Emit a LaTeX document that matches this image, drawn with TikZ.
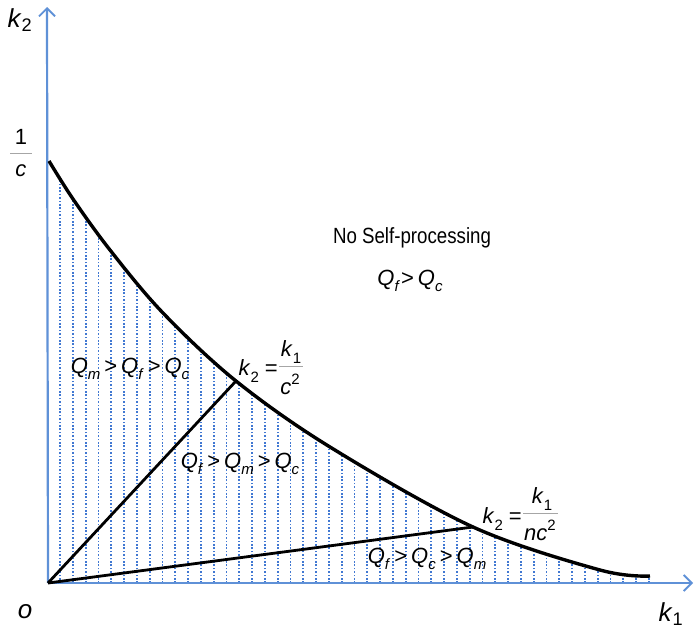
\documentclass[tikz,border=0pt]{standalone}
\usepackage{fontspec}
\setmainfont{Liberation Sans}
\newfontfamily\narrowfont{Liberation Sans}[FakeStretch=0.85]
\usetikzlibrary{arrows.meta}
\definecolor{axisblue}{RGB}{95,145,215}
\definecolor{hatchblue}{RGB}{65,120,210}
\tikzset{
  axis/.style={axisblue, line width=2.2pt, -{Straight Barb[length=8pt,width=16pt,line width=1.8pt]}},
  hatch/.style={hatchblue, line width=1.8pt, dash pattern=on 1.6pt off 1.8pt},
  bound/.style={black, line width=3.4pt},
  ray/.style={black, line width=2.8pt},
  lab/.style={font=\fontsize{22}{25}\selectfont, inner sep=0pt, text=black},
  nlab/.style={font=\narrowfont\fontsize{22}{25}\selectfont, inner sep=0pt, text=black},
  big/.style={font=\fontsize{26}{29}\selectfont, inner sep=0pt, text=black},
  fline/.style={gray!70, line width=0.9pt}
}
\newcommand\sub[1]{\raisebox{-0.28em}{\fontsize{15}{15}\selectfont #1}}
\newcommand\sups[1]{\raisebox{0.45em}{\fontsize{15}{15}\selectfont #1}}
\newcommand\Qs[1]{\textit{Q}\sub{\textit{#1}}}
\newcommand\gt{\hspace{4pt}>\hspace{4pt}}
\begin{document}
\begin{tikzpicture}[x=1pt,y=-1pt]
\useasboundingbox (0,0) rectangle (695,629);
\coordinate (O) at (48,583);
\coordinate (A) at (236,381);
\coordinate (B) at (473,527);
\coordinate (S) at (49,161);
\coordinate (E) at (650,576);
% hatching under the curve
\begin{scope}
\clip (O) -- plot[smooth, tension=0.55] coordinates {(49,161) (73,199) (110,250) (163,313) (236,381) (330,447) (473,527) (600,570) (650,576)} -- (650,583) -- cycle;
\foreach \x in {60,72.8,...,650} \draw[hatch] (\x,583) -- (\x,150);
\end{scope}
% axes
\draw[axis] (O) -- (47,7);
\draw[axis] (O) -- (693,583);
% boundary curve
\draw[bound] plot[smooth, tension=0.55] coordinates {(49,161) (73,199) (110,250) (163,313) (236,381) (330,447) (473,527) (600,570) (650,576)};
% rays
\draw[ray] (O) -- (A);
\draw[ray] (O) -- (B);
% axis labels
\node[big] (k2) at (20,20) {\textit{k}\textsubscript{2}};
\node[big] (k1) at (671,614) {\textit{k}\textsubscript{1}};
\node[big] (o) at (25,612) {\textit{o}};
\node[lab] (one) at (21,137) {1};
\node[lab] (cc) at (21,171) {\textit{c}};
\draw[fline] (10,153) -- (32,153);
% region labels
\node[nlab] (nsp) at (412,238) {No Self-processing};
\node[lab] (r0) at (410,281) {\Qs{f}\hspace{1pt}>\hspace{4pt}\Qs{c}};
\node[lab] (r1) at (130,369) {\Qs{m}\gt\Qs{f}\gt\Qs{c}};
\node[lab] (r2) at (240,464) {\Qs{f}\gt\Qs{m}\gt\Qs{c}};
\node[lab] (r3) at (427,559) {\Qs{f}\gt\Qs{c}\gt\Qs{m}};
% line equation 1
\node[lab, anchor=east] (e1) at (278,371) {\textit{k}\sub{2} =};
\draw[fline] (279,366) -- (303,366);
\node[lab] (e1n) at (291,352) {\textit{k}\sub{1}};
\node[lab] (e1d) at (290,384) {\textit{c}\sups{2}};
% line equation 2
\node[lab, anchor=east] (e2) at (522,519) {\textit{k}\sub{2} =};
\draw[fline] (523,513) -- (558,513);
\node[lab] (e2n) at (542,499) {\textit{k}\sub{1}};
\node[lab] (e2d) at (540,530) {\textit{nc}\sups{2}};
\end{tikzpicture}
\end{document}
